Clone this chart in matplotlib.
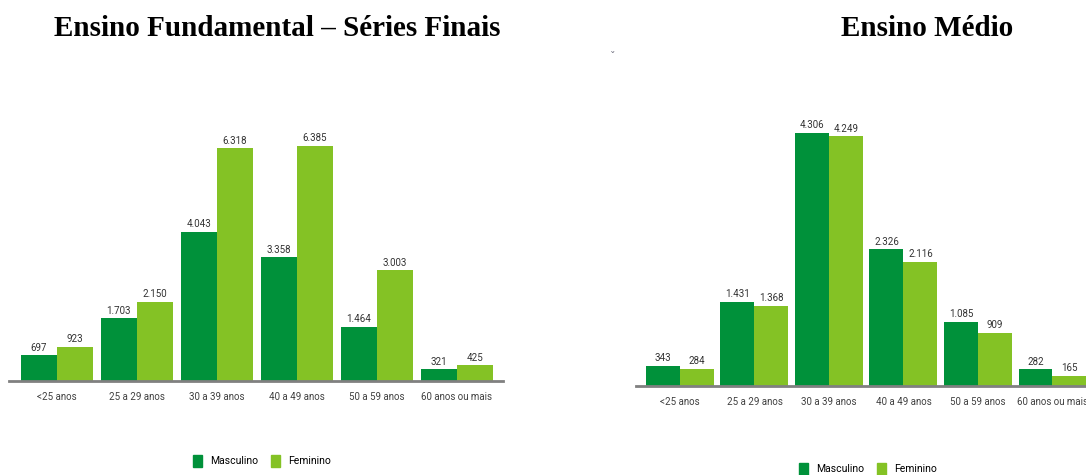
import numpy as np
import matplotlib.pyplot as plt
from matplotlib.patches import Patch

categorias = ['<25 anos', '25 a 29 anos', '30 a 39 anos', '40 a 49 anos',
              '50 a 59 anos', '60 anos ou mais']
fund_masc = [697, 1703, 4043, 3358, 1464, 321]
fund_fem = [923, 2150, 6318, 6385, 3003, 425]
medio_masc = [343, 1431, 4306, 2326, 1085, 282]
medio_fem = [284, 1368, 4249, 2116, 909, 165]

COR_MASC = '#00913A'
COR_FEM = '#84C225'
W, H = 1086, 475
FONTE = ['Roboto', 'DejaVu Sans']


def fmt(v):
    return f"{v:,}".replace(',', '.')


def plot_grupo(ax, masc, fem, ymax, width, xlim):
    x = np.arange(len(categorias))
    ax.bar(x - width / 2, masc, width, color=COR_MASC)
    ax.bar(x + width / 2, fem, width, color=COR_FEM)
    for xi, m, f in zip(x, masc, fem):
        ax.text(xi - width / 2, m + ymax * 0.01, fmt(m), ha='center', va='bottom',
                fontsize=7, color='#333333', family=FONTE)
        ax.text(xi + width / 2, f + ymax * 0.01, fmt(f), ha='center', va='bottom',
                fontsize=7, color='#333333', family=FONTE)
    ax.set_xlim(*xlim)
    ax.set_ylim(0, ymax)
    ax.set_xticks(x)
    ax.set_xticklabels(categorias, fontsize=7, color='#404040', family=FONTE)
    ax.tick_params(axis='x', length=0, pad=8)
    ax.set_yticks([])
    for s in ['top', 'right', 'left']:
        ax.spines[s].set_visible(False)
    ax.spines['bottom'].set_color('#808080')
    ax.spines['bottom'].set_linewidth(2)


fig = plt.figure(figsize=(W / 100, H / 100), dpi=100)

# esquerda: Ensino Fundamental
ax1 = fig.add_axes([9 / W, (H - 381) / H, 494 / W, 258 / H])
plot_grupo(ax1, fund_masc, fund_fem, 7000, 0.4525, (-0.599, 5.576))

# direita: Ensino Medio
ax2 = fig.add_axes([636 / W, (H - 386) / H, 450 / W, 282 / H])
plot_grupo(ax2, medio_masc, medio_fem, 4800, 0.456, (-0.59, 5.45))

fig.text(277 / W, 1 - 28 / H, 'Ensino Fundamental – Séries Finais', ha='center', va='center',
         fontsize=21, fontweight='bold', family='Liberation Serif')
fig.text(927 / W, 1 - 28 / H, 'Ensino Médio', ha='center', va='center',
         fontsize=21, fontweight='bold', family='Liberation Serif')
fig.text(613 / W, 1 - 57 / H, 'ˇ', ha='center', va='center', fontsize=8, color='#707080')

handles = [Patch(color=COR_MASC, label='Masculino'), Patch(color=COR_FEM, label='Feminino')]
for cx, cy in [(262, 461), (868, 469)]:
    fig.legend(handles=handles, loc='center', bbox_to_anchor=(cx / W, 1 - cy / H), ncol=2,
               frameon=False, prop={'family': FONTE, 'size': 7.5}, handlelength=0.9,
               handleheight=1.4, handletextpad=0.8, columnspacing=1.2)

plt.savefig('out.png', dpi=100)
